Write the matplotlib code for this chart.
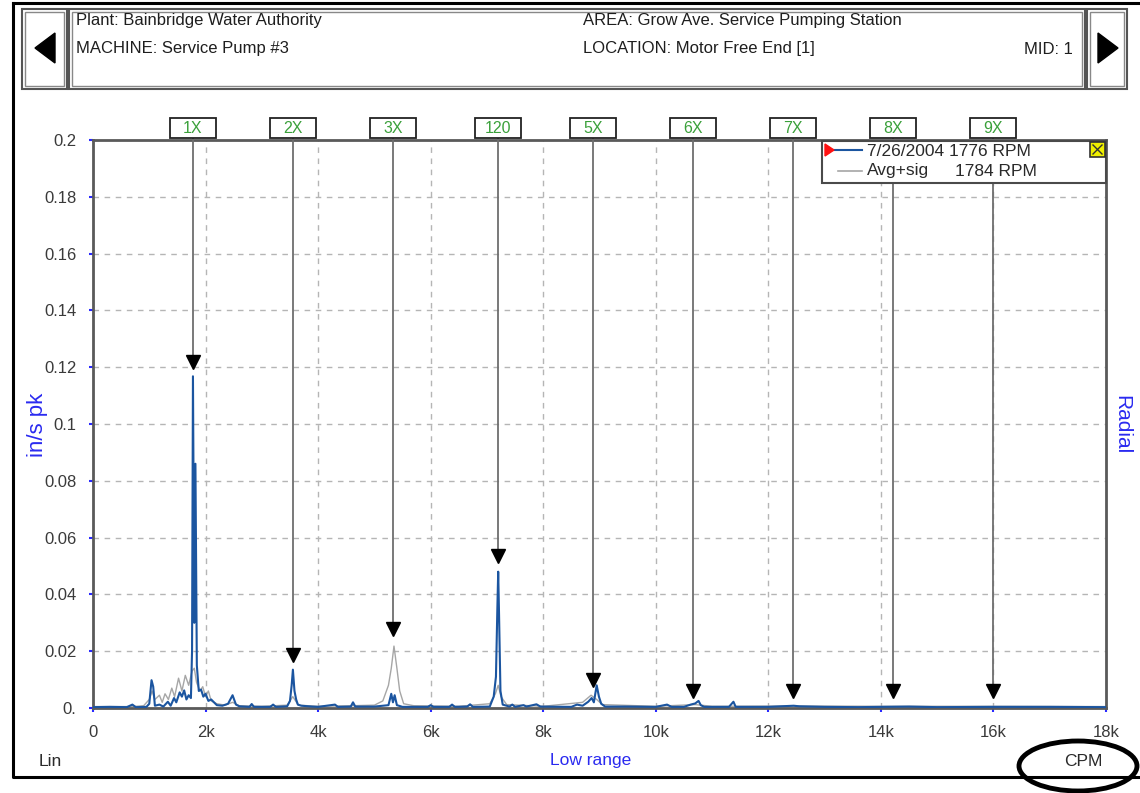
import matplotlib.pyplot as plt
from matplotlib.patches import Rectangle, Ellipse, Polygon
from matplotlib.lines import Line2D

plt.rcParams['font.family'] = ['Liberation Sans', 'DejaVu Sans']

# spectrum, 7/26/2004 @ 1776 RPM  (CPM, in/s pk)
cpm_now = [0, 300, 600, 700, 760, 950, 1000, 1040, 1070, 1100, 1180, 1250, 1330, 1380,
           1440, 1480, 1540, 1580, 1620, 1660, 1700, 1740, 1760, 1776, 1800, 1820, 1845,
           1880, 1920, 1960, 2000, 2050, 2100, 2200, 2300, 2400, 2480, 2540, 2600, 2780,
           2820, 2860, 3150, 3200, 3250, 3450, 3500, 3530, 3552, 3580, 3610, 3640, 3700,
           3900, 4000, 4300, 4350, 4580, 4620, 4660, 5000, 5250, 5300, 5330, 5360, 5400,
           5500, 5950, 6000, 6050, 6330, 6380, 6430, 6650, 6700, 6750, 7050, 7120, 7160,
           7185, 7200, 7215, 7240, 7280, 7400, 7450, 7500, 7650, 7700, 7880, 7950, 8500,
           8600, 8700, 8800, 8860, 8900, 8950, 8990, 9030, 9100, 9500, 10000, 10200,
           10280, 10500, 10620, 10700, 10760, 10800, 10860, 11300, 11380, 11420, 12000,
           12450, 12550, 13000, 13600, 14000, 14500, 15000, 16000, 17000, 18000]
amp_now = [0.0003, 0.0004, 0.0003, 0.0012, 0.0003, 0.0004, 0.0015, 0.0098, 0.0075, 0.0008,
           0.0012, 0.0005, 0.0022, 0.0008, 0.0035, 0.0020, 0.0055, 0.0040, 0.0062, 0.0030,
           0.0045, 0.0035, 0.0200, 0.1168, 0.0300, 0.0860, 0.0150, 0.0060, 0.0065, 0.0040,
           0.0050, 0.0025, 0.0030, 0.0010, 0.0008, 0.0015, 0.0045, 0.0012, 0.0006, 0.0004,
           0.0014, 0.0004, 0.0004, 0.0012, 0.0004, 0.0006, 0.0025, 0.0080, 0.0135, 0.0060,
           0.0030, 0.0012, 0.0008, 0.0005, 0.0004, 0.0012, 0.0004, 0.0005, 0.0020, 0.0005,
           0.0005, 0.0010, 0.0050, 0.0020, 0.0045, 0.0010, 0.0004, 0.0004, 0.0010, 0.0004,
           0.0004, 0.0012, 0.0004, 0.0005, 0.0013, 0.0004, 0.0005, 0.0040, 0.0110, 0.0350,
           0.0480, 0.0330, 0.0060, 0.0012, 0.0005, 0.0012, 0.0004, 0.0010, 0.0005, 0.0013,
           0.0005, 0.0004, 0.0012, 0.0008, 0.0022, 0.0035, 0.0020, 0.0080, 0.0040, 0.0015,
           0.0005, 0.0005, 0.0004, 0.0012, 0.0004, 0.0004, 0.0012, 0.0016, 0.0025, 0.0010,
           0.0004, 0.0004, 0.0022, 0.0004, 0.0004, 0.0008, 0.0006, 0.0004, 0.0003, 0.0004,
           0.0005, 0.0003, 0.0004, 0.0004, 0.0003]

# average + sigma reference spectrum @ 1784 RPM
cpm_avg = [0, 700, 900, 1000, 1050, 1100, 1180, 1230, 1280, 1340, 1400, 1450, 1520, 1580,
           1640, 1700, 1760, 1800, 1840, 1900, 1950, 2000, 2050, 2100, 2200, 2350, 2480,
           2600, 3000, 3450, 3550, 3650, 4000, 4600, 5000, 5150, 5250, 5300, 5348, 5400,
           5450, 5520, 5700, 6500, 7050, 7150, 7200, 7250, 7350, 8000, 8700, 8850, 8950,
           9050, 10000, 10700, 11000, 12500, 14000, 16000, 18000]
amp_avg = [0.0005, 0.0005, 0.0008, 0.0030, 0.0060, 0.0030, 0.0045, 0.0020, 0.0050, 0.0030,
           0.0070, 0.0040, 0.0105, 0.0060, 0.0115, 0.0080, 0.0130, 0.0140, 0.0090, 0.0060,
           0.0075, 0.0040, 0.0060, 0.0025, 0.0015, 0.0010, 0.0020, 0.0008, 0.0006, 0.0010,
           0.0040, 0.0010, 0.0006, 0.0008, 0.0010, 0.0025, 0.0080, 0.0140, 0.0218, 0.0140,
           0.0060, 0.0015, 0.0008, 0.0006, 0.0015, 0.0050, 0.0080, 0.0040, 0.0012, 0.0006,
           0.0020, 0.0045, 0.0030, 0.0012, 0.0006, 0.0012, 0.0006, 0.0007, 0.0006, 0.0006,
           0.0005]

# fault frequency markers
order_labels = ['1X', '2X', '3X', '120', '5X', '6X', '7X', '8X', '9X']
order_cpm = [1776, 3552, 5328, 7200, 8880, 10656, 12432, 14208, 15984]
order_tip = [0.1196, 0.0165, 0.0256, 0.0512, 0.0077, 0.0039, 0.0039, 0.0039, 0.0039]

yticks = [0, 0.02, 0.04, 0.06, 0.08, 0.1, 0.12, 0.14, 0.16, 0.18, 0.2]
ytick_labels = ['0.', '0.02', '0.04', '0.06', '0.08', '0.1', '0.12', '0.14', '0.16', '0.18', '0.2']
xticks = [0, 2000, 4000, 6000, 8000, 10000, 12000, 14000, 16000, 18000]
xtick_labels = ['0', '2k', '4k', '6k', '8k', '10k', '12k', '14k', '16k', '18k']

W, H = 1140, 793
fig = plt.figure(figsize=(W / 100, H / 100), dpi=100)


def fx(px):
    return px / W


def fy(py):
    return 1 - py / H


ax = fig.add_axes([fx(93), fy(708), fx(1106) - fx(93), fy(140) - fy(708)])

ax.plot(cpm_avg, amp_avg, color='#a6a6a6', lw=1.0, zorder=2)
ax.plot(cpm_now, amp_now, color='#1b55a0', lw=1.5, zorder=3)

ax.set_xlim(0, 18000)
ax.set_ylim(0, 0.2)
ax.set_xticks(xticks)
ax.set_xticklabels(xtick_labels)
ax.set_yticks(yticks)
ax.set_yticklabels(ytick_labels)
ax.tick_params(axis='both', colors='#2a2aff', length=3, width=1.5, labelsize=12,
               labelcolor='#3a3a3a', pad=9)
ax.grid(True, color='#b5b5b5', linestyle=(0, (4, 4)), linewidth=1)
for s in ax.spines.values():
    s.set_color('#5a5a5a')
    s.set_linewidth(2)

# order markers: labelled boxes above the plot, arrows down to the peaks
box_w = 817
for lab, f, tip in zip(order_labels, order_cpm, order_tip):
    ax.add_patch(Rectangle((f - box_w / 2, 1.003), box_w, 0.035,
                           transform=ax.get_xaxis_transform(), facecolor='white',
                           edgecolor='#222222', lw=1.3, clip_on=False, zorder=6))
    ax.text(f, 1.0205, lab, transform=ax.get_xaxis_transform(), ha='center', va='center',
            color='#3aa03a', fontsize=11.5, zorder=7, clip_on=False)
    ax.plot([f, f], [tip / 0.2 + 0.02, 1.003], transform=ax.get_xaxis_transform(),
            color='#6e6e6e', lw=1.3, clip_on=False, zorder=4)
    ax.plot(f, tip + 0.0022, marker='v', markersize=10, color='black', zorder=5)

# legend panel
ax_leg = [fx(822), fy(183), fx(1106) - fx(822), fy(141) - fy(183)]
fig.patches.append(Rectangle((ax_leg[0], ax_leg[1]), ax_leg[2], ax_leg[3],
                             transform=fig.transFigure, facecolor='white',
                             edgecolor='#4a4a4a', lw=1.5, zorder=10))
fig.patches.append(Polygon([(fx(825), fy(144)), (fx(825), fy(156)), (fx(834), fy(150))],
                           closed=True, transform=fig.transFigure, color='#ff1010', zorder=11))
fig.lines.append(Line2D([fx(834), fx(862)], [fy(150), fy(150)], transform=fig.transFigure,
                        color='#1b55a0', lw=1.5, zorder=11))
fig.lines.append(Line2D([fx(838), fx(862)], [fy(171), fy(171)], transform=fig.transFigure,
                        color='#a6a6a6', lw=1.2, zorder=11))
fig.text(fx(867), fy(151), '7/26/2004 1776 RPM', fontsize=12.5, color='#2a2a2a',
         va='center', zorder=12)
fig.text(fx(867), fy(171), 'Avg+sig', fontsize=12.5, color='#2a2a2a', va='center', zorder=12)
fig.text(fx(955), fy(171), '1784 RPM', fontsize=12.5, color='#2a2a2a', va='center', zorder=12)
fig.patches.append(Rectangle((fx(1090), fy(157)), fx(15), fy(0) - fy(15),
                             transform=fig.transFigure, facecolor='#f0f000',
                             edgecolor='#333333', lw=1.2, zorder=12))
fig.lines.append(Line2D([fx(1093), fx(1102)], [fy(145), fy(154)], transform=fig.transFigure,
                        color='#333333', lw=1, zorder=13))
fig.lines.append(Line2D([fx(1093), fx(1102)], [fy(154), fy(145)], transform=fig.transFigure,
                        color='#333333', lw=1, zorder=13))

# outer frame
fig.lines.append(Line2D([fx(13), fx(13), fx(1140)], [fy(3), fy(777), fy(777)],
                        transform=fig.transFigure, color='black', lw=2.2))
fig.lines.append(Line2D([fx(13), fx(1140)], [fy(3), fy(3)],
                        transform=fig.transFigure, color='black', lw=2.2))


def bevel_box(x0, y0, x1, y1):
    fig.patches.append(Rectangle((fx(x0), fy(y1)), fx(x1 - x0), fy(0) - fy(y1 - y0),
                                 transform=fig.transFigure, facecolor='white',
                                 edgecolor='#555555', lw=1.5))
    fig.patches.append(Rectangle((fx(x0 + 3), fy(y1 - 3)), fx(x1 - x0 - 6),
                                 fy(0) - fy(y1 - y0 - 6), transform=fig.transFigure,
                                 facecolor='none', edgecolor='#888888', lw=1))


# header: arrows and machine info
bevel_box(22, 9, 67, 89)
bevel_box(69, 9, 1085, 89)
bevel_box(1087, 9, 1127, 89)
fig.patches.append(Polygon([(fx(35), fy(48)), (fx(55), fy(33)), (fx(55), fy(63))],
                           closed=True, transform=fig.transFigure, color='black'))
fig.patches.append(Polygon([(fx(1118), fy(48)), (fx(1098), fy(33)), (fx(1098), fy(63))],
                           closed=True, transform=fig.transFigure, color='black'))
hdr = dict(fontsize=12, color='#1e1e1e', va='center')
fig.text(fx(76), fy(21), 'Plant: Bainbridge Water Authority', **hdr)
fig.text(fx(76), fy(49), 'MACHINE: Service Pump #3', **hdr)
fig.text(fx(583), fy(21), 'AREA: Grow Ave. Service Pumping Station', **hdr)
fig.text(fx(583), fy(49), 'LOCATION: Motor Free End [1]', **hdr)
fig.text(fx(1073), fy(49), 'MID: 1', ha='right', **{k: v for k, v in hdr.items()})

# axis captions
fig.text(fx(38), fy(425), 'in/s pk', rotation=90, color='#2a2af0', fontsize=16,
         ha='center', va='center')
fig.text(fx(1122), fy(425), 'Radial', rotation=-90, color='#2a2af0', fontsize=15,
         ha='center', va='center')
fig.text(fx(591), fy(761), 'Low range', color='#2a2af0', fontsize=12.5, ha='center', va='center')
fig.text(fx(39), fy(761), 'Lin', color='#2a2a2a', fontsize=12.5, va='center')
fig.text(fx(1083), fy(761), 'CPM', color='#2a2a2a', fontsize=12.5, ha='center', va='center')
fig.patches.append(Ellipse((fx(1078), fy(766)), fx(118), fy(0) - fy(50),
                           transform=fig.transFigure, facecolor='none', edgecolor='black',
                           lw=3.5, zorder=15))

fig.savefig('out.png', dpi=100)
